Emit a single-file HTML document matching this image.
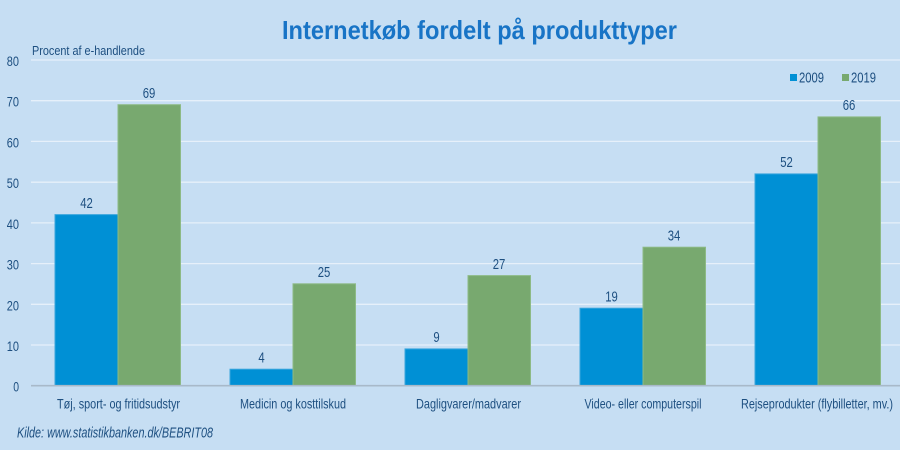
<!DOCTYPE html>
<html><head><meta charset="utf-8"><style>
html,body{margin:0;padding:0;background:#c6def3;}
svg{display:block;}
text{font-family:"Liberation Sans Narrow","Liberation Sans",sans-serif;}
</style></head><body>
<svg width="900" height="450" viewBox="0 0 900 450" xmlns="http://www.w3.org/2000/svg">
<rect x="0" y="0" width="900" height="450" fill="#c6def3"/>
<text x="282" y="39" font-size="26" font-weight="bold" fill="#1874c6" textLength="395" lengthAdjust="spacingAndGlyphs">Internetkøb fordelt på produkttyper</text>
<text x="32" y="55" font-size="12.5" fill="#1d4f80" textLength="113" lengthAdjust="spacingAndGlyphs">Procent af e-handlende</text>
<g stroke="#e6f0fa" stroke-width="1.3">
<line x1="31" x2="900" y1="60" y2="60"/>
<line x1="31" x2="900" y1="100.7" y2="100.7"/>
<line x1="31" x2="900" y1="141.4" y2="141.4"/>
<line x1="31" x2="900" y1="182.2" y2="182.2"/>
<line x1="31" x2="900" y1="222.9" y2="222.9"/>
<line x1="31" x2="900" y1="263.6" y2="263.6"/>
<line x1="31" x2="900" y1="304.3" y2="304.3"/>
<line x1="31" x2="900" y1="345" y2="345"/>
</g>
<g font-size="13.5" fill="#1d4f80">
<text x="6.8" y="66" textLength="12.2" lengthAdjust="spacingAndGlyphs">80</text>
<text x="6.8" y="106.7" textLength="12.2" lengthAdjust="spacingAndGlyphs">70</text>
<text x="6.8" y="147.4" textLength="12.2" lengthAdjust="spacingAndGlyphs">60</text>
<text x="6.8" y="188.2" textLength="12.2" lengthAdjust="spacingAndGlyphs">50</text>
<text x="6.8" y="228.9" textLength="12.2" lengthAdjust="spacingAndGlyphs">40</text>
<text x="6.8" y="269.6" textLength="12.2" lengthAdjust="spacingAndGlyphs">30</text>
<text x="6.8" y="310.3" textLength="12.2" lengthAdjust="spacingAndGlyphs">20</text>
<text x="6.8" y="351" textLength="12.2" lengthAdjust="spacingAndGlyphs">10</text>
<text x="13.2" y="391.5" textLength="5.8" lengthAdjust="spacingAndGlyphs">0</text>
</g>
<g stroke-width="1">
<rect x="55" y="214.6" width="63" height="170.9" fill="#0090d5" stroke="#3aa6dd"/>
<rect x="118" y="104.7" width="62.5" height="280.8" fill="#78a96f" stroke="#8dba85"/>
<rect x="230" y="369.2" width="63" height="16.3" fill="#0090d5" stroke="#3aa6dd"/>
<rect x="293" y="283.8" width="62.5" height="101.7" fill="#78a96f" stroke="#8dba85"/>
<rect x="405" y="348.9" width="63" height="36.6" fill="#0090d5" stroke="#3aa6dd"/>
<rect x="468" y="275.6" width="62.5" height="109.9" fill="#78a96f" stroke="#8dba85"/>
<rect x="580" y="308.2" width="63" height="77.3" fill="#0090d5" stroke="#3aa6dd"/>
<rect x="643" y="247.2" width="62.5" height="138.3" fill="#78a96f" stroke="#8dba85"/>
<rect x="755" y="173.9" width="63" height="211.6" fill="#0090d5" stroke="#3aa6dd"/>
<rect x="818" y="116.9" width="62.5" height="268.6" fill="#78a96f" stroke="#8dba85"/>
</g>
<line x1="31" x2="900" y1="385.7" y2="385.7" stroke="#a8b9c9" stroke-width="1.6"/>
<g font-size="14.5" fill="#1d4f80">
<text x="80.2" y="207.8" textLength="12.6" lengthAdjust="spacingAndGlyphs">42</text>
<text x="142.7" y="98" textLength="12.6" lengthAdjust="spacingAndGlyphs">69</text>
<text x="258.4" y="362.4" textLength="6.3" lengthAdjust="spacingAndGlyphs">4</text>
<text x="317.7" y="277" textLength="12.6" lengthAdjust="spacingAndGlyphs">25</text>
<text x="433.4" y="342.1" textLength="6.3" lengthAdjust="spacingAndGlyphs">9</text>
<text x="492.7" y="268.8" textLength="12.6" lengthAdjust="spacingAndGlyphs">27</text>
<text x="605.2" y="301.4" textLength="12.6" lengthAdjust="spacingAndGlyphs">19</text>
<text x="667.7" y="240.4" textLength="12.6" lengthAdjust="spacingAndGlyphs">34</text>
<text x="780.2" y="167.1" textLength="12.6" lengthAdjust="spacingAndGlyphs">52</text>
<text x="842.7" y="110.1" textLength="12.6" lengthAdjust="spacingAndGlyphs">66</text>
</g>
<g font-size="14" fill="#1d4f80">
<text x="57" y="408.5" textLength="123" lengthAdjust="spacingAndGlyphs">Tøj, sport- og fritidsudstyr</text>
<text x="240" y="408.5" textLength="106" lengthAdjust="spacingAndGlyphs">Medicin og kosttilskud</text>
<text x="416" y="408.5" textLength="105" lengthAdjust="spacingAndGlyphs">Dagligvarer/madvarer</text>
<text x="584.5" y="408.5" textLength="117" lengthAdjust="spacingAndGlyphs">Video- eller computerspil</text>
<text x="741" y="408.5" textLength="152" lengthAdjust="spacingAndGlyphs">Rejseprodukter (flybilletter, mv.)</text>
</g>
<rect x="790" y="74" width="7" height="7" fill="#0090d5"/>
<text x="799" y="82.7" font-size="14.5" fill="#1d4f80" textLength="25" lengthAdjust="spacingAndGlyphs">2009</text>
<rect x="842" y="74" width="7" height="7" fill="#78a96f"/>
<text x="851" y="82.7" font-size="14.5" fill="#1d4f80" textLength="25" lengthAdjust="spacingAndGlyphs">2019</text>
<text x="17" y="437.7" font-size="15" font-style="italic" fill="#1d4f80" textLength="196" lengthAdjust="spacingAndGlyphs">Kilde: www.statistikbanken.dk/BEBRIT08</text>
</svg>
</body></html>
